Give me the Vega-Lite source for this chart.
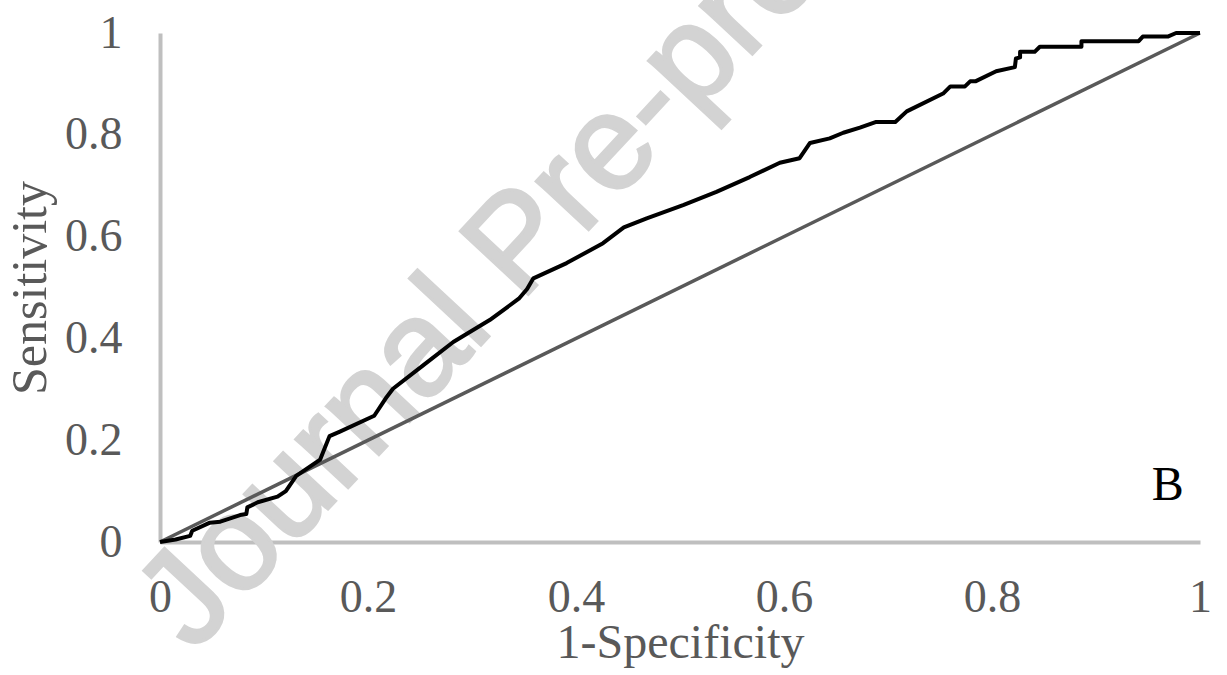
{
  "$schema": "https://vega.github.io/schema/vega-lite/v6.json",
  "width": 1040,
  "height": 509,
  "autosize": {"type": "none"},
  "padding": {"left": 160, "top": 33, "right": 27, "bottom": 133},
  "background": "white",
  "config": {"view": {"stroke": null}, "font": "Liberation Serif"},
  "datasets": {
    "wm": [{"x": 0.374, "y": 0.53, "label": "Journal Pre-proof"}],
    "lab": [{"x": 0.969, "y": 0.0825, "label": "B"}],
    "diag": [{"x": 0, "y": 0}, {"x": 1, "y": 1}],
    "roc": [
      {"x": 0, "y": 0}, {"x": 0.015, "y": 0.005}, {"x": 0.029, "y": 0.012}, {"x": 0.031, "y": 0.022},
      {"x": 0.048, "y": 0.038}, {"x": 0.058, "y": 0.04}, {"x": 0.077, "y": 0.053}, {"x": 0.083, "y": 0.055},
      {"x": 0.084, "y": 0.068}, {"x": 0.094, "y": 0.078}, {"x": 0.113, "y": 0.089}, {"x": 0.121, "y": 0.1},
      {"x": 0.131, "y": 0.13}, {"x": 0.154, "y": 0.162}, {"x": 0.163, "y": 0.208}, {"x": 0.173, "y": 0.217},
      {"x": 0.206, "y": 0.248}, {"x": 0.218, "y": 0.285}, {"x": 0.224, "y": 0.301}, {"x": 0.253, "y": 0.347},
      {"x": 0.282, "y": 0.393}, {"x": 0.317, "y": 0.436}, {"x": 0.345, "y": 0.478}, {"x": 0.353, "y": 0.497},
      {"x": 0.359, "y": 0.518}, {"x": 0.391, "y": 0.548}, {"x": 0.426, "y": 0.587}, {"x": 0.446, "y": 0.618},
      {"x": 0.468, "y": 0.636}, {"x": 0.503, "y": 0.662}, {"x": 0.535, "y": 0.688}, {"x": 0.567, "y": 0.717},
      {"x": 0.596, "y": 0.745}, {"x": 0.615, "y": 0.754}, {"x": 0.625, "y": 0.784}, {"x": 0.644, "y": 0.793},
      {"x": 0.657, "y": 0.804}, {"x": 0.673, "y": 0.814}, {"x": 0.688, "y": 0.825}, {"x": 0.707, "y": 0.825},
      {"x": 0.718, "y": 0.846}, {"x": 0.753, "y": 0.881}, {"x": 0.76, "y": 0.895}, {"x": 0.774, "y": 0.895},
      {"x": 0.779, "y": 0.905}, {"x": 0.784, "y": 0.905}, {"x": 0.804, "y": 0.925}, {"x": 0.822, "y": 0.933},
      {"x": 0.823, "y": 0.95}, {"x": 0.827, "y": 0.952}, {"x": 0.827, "y": 0.963}, {"x": 0.841, "y": 0.963},
      {"x": 0.846, "y": 0.973}, {"x": 0.886, "y": 0.973}, {"x": 0.886, "y": 0.984}, {"x": 0.941, "y": 0.984},
      {"x": 0.945, "y": 0.993}, {"x": 0.969, "y": 0.993}, {"x": 0.977, "y": 1.0}, {"x": 1.0, "y": 1.0}
    ]
  },
  "encoding": {
    "x": {
      "field": "x", "type": "quantitative",
      "scale": {"domain": [0, 1], "nice": false, "zero": false},
      "axis": {
        "title": "1-Specificity",
        "values": [0, 0.2, 0.4, 0.6, 0.8, 1],
        "labelExpr": "datum.value === 0 ? '0' : datum.value === 1 ? '1' : format(datum.value, '.1f')",
        "grid": false, "ticks": false, "tickSize": 0,
        "domainColor": "#bfbfbf", "domainWidth": 4,
        "labelFont": "Liberation Serif", "labelFontSize": 46, "labelColor": "#595959",
        "labelPadding": 33, "labelFlush": false, "labelOverlap": false,
        "titleFont": "Liberation Serif", "titleFontSize": 48, "titleFontWeight": "normal",
        "titleColor": "#595959", "titlePadding": -1
      }
    },
    "y": {
      "field": "y", "type": "quantitative",
      "scale": {"domain": [0, 1], "nice": false, "zero": false},
      "axis": {
        "title": "Sensitivity",
        "values": [0, 0.2, 0.4, 0.6, 0.8, 1],
        "labelExpr": "datum.value === 0 ? '0' : datum.value === 1 ? '1' : format(datum.value, '.1f')",
        "grid": false, "ticks": false, "tickSize": 0,
        "domainColor": "#bfbfbf", "domainWidth": 4,
        "labelFont": "Liberation Serif", "labelFontSize": 46, "labelColor": "#595959",
        "labelPadding": 38, "labelFlush": false, "labelOverlap": false,
        "titleFont": "Liberation Serif", "titleFontSize": 50, "titleFontWeight": "normal",
        "titleColor": "#595959", "titlePadding": 9
      }
    }
  },
  "layer": [
    {
      "data": {"name": "wm"},
      "mark": {"type": "text", "angle": -47, "fontSize": 135, "font": "Liberation Sans", "color": "#d3d3d3", "stroke": "#d3d3d3", "strokeWidth": 3, "align": "center", "baseline": "alphabetic"},
      "encoding": {"text": {"field": "label"}}
    },
    {
      "data": {"name": "diag"},
      "mark": {"type": "line", "color": "#595959", "strokeWidth": 3.5},
      "encoding": {}
    },
    {
      "data": {"name": "roc"},
      "mark": {"type": "line", "color": "#000000", "strokeWidth": 4, "strokeJoin": "round"},
      "encoding": {"order": {"field": "x", "type": "quantitative"}}
    },
    {
      "data": {"name": "lab"},
      "mark": {"type": "text", "fontSize": 48, "font": "Liberation Serif", "color": "#000000", "align": "center", "baseline": "alphabetic"},
      "encoding": {"text": {"field": "label"}}
    }
  ]
}
